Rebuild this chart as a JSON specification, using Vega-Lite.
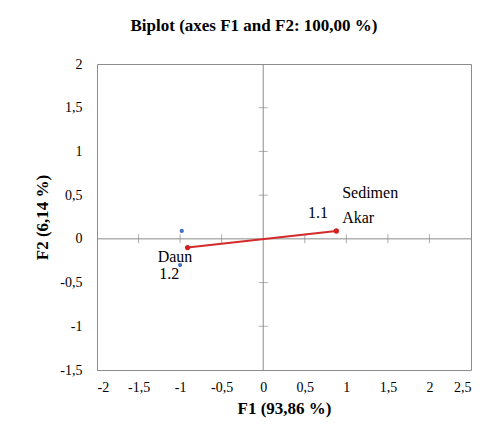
{
  "$schema": "https://vega.github.io/schema/vega-lite/v6.json",
  "width": 374,
  "height": 306,
  "autosize": {"type": "none"},
  "padding": {"left": 97, "top": 64, "right": 25, "bottom": 69},
  "background": "white",
  "title": {
    "text": "Biplot (axes F1 and F2: 100,00 %)",
    "font": "Liberation Serif",
    "fontSize": 17,
    "fontWeight": "bold",
    "color": "#000000",
    "anchor": "middle",
    "frame": "group",
    "dx": -30,
    "offset": 22
  },
  "config": {
    "view": {"stroke": "#8c8c8c", "strokeWidth": 1},
    "axis": {
      "grid": false,
      "ticks": false,
      "domain": false,
      "labelFont": "Liberation Serif",
      "labelFontSize": 14,
      "labelColor": "#000000",
      "titleFont": "Liberation Serif",
      "titleFontSize": 17,
      "titleFontWeight": "bold",
      "titleColor": "#000000"
    }
  },
  "datasets": {
    "vectors": [
      {"name": "Daun", "f1": -0.91, "f2": -0.10},
      {"name": "Sedimen", "f1": 0.88, "f2": 0.09}
    ],
    "obs": [
      {"name": "1.1", "f1": -0.98, "f2": 0.09},
      {"name": "1.2", "f1": -1.0, "f2": -0.30}
    ],
    "labels": [
      {"text": "Sedimen", "f1": 0.95, "f2": 0.53},
      {"text": "Akar", "f1": 0.95, "f2": 0.24},
      {"text": "1.1", "f1": 0.54, "f2": 0.30},
      {"text": "Daun", "f1": -1.27, "f2": -0.21},
      {"text": "1.2", "f1": -1.25, "f2": -0.40}
    ],
    "xticks": [
      {"v": -1.5}, {"v": -1}, {"v": -0.5}, {"v": 0.5}, {"v": 1}, {"v": 1.5}, {"v": 2}
    ],
    "yticks": [
      {"v": -1}, {"v": -0.5}, {"v": 0.5}, {"v": 1}, {"v": 1.5}
    ],
    "zero": [{"v": 0}]
  },
  "layer": [
    {
      "data": {"name": "zero"},
      "mark": {"type": "rule", "color": "#8c8c8c", "strokeWidth": 1},
      "encoding": {
        "x": {
          "field": "v", "type": "quantitative",
          "scale": {"domain": [-2, 2.5], "nice": false, "zero": false},
          "axis": {
            "values": [-2, -1.5, -1, -0.5, 0, 0.5, 1, 1.5, 2, 2.5],
            "labelExpr": "replace(toString(datum.value), '.', ',')",
            "labelPadding": 10,
            "title": "F1 (93,86 %)",
            "titlePadding": 6
          }
        }
      }
    },
    {
      "data": {"name": "zero"},
      "mark": {"type": "rule", "color": "#8c8c8c", "strokeWidth": 1},
      "encoding": {
        "y": {
          "field": "v", "type": "quantitative",
          "scale": {"domain": [-1.5, 2], "nice": false, "zero": false},
          "axis": {
            "values": [-1.5, -1, -0.5, 0, 0.5, 1, 1.5, 2],
            "labelExpr": "replace(toString(datum.value), '.', ',')",
            "labelPadding": 15,
            "title": "F2 (6,14 %)",
            "titlePadding": 8
          }
        }
      }
    },
    {
      "data": {"name": "xticks"},
      "mark": {"type": "tick", "orient": "vertical", "color": "#8c8c8c", "size": 9, "thickness": 1},
      "encoding": {
        "x": {"field": "v", "type": "quantitative"},
        "y": {"datum": 0, "type": "quantitative"}
      }
    },
    {
      "data": {"name": "yticks"},
      "mark": {"type": "tick", "orient": "horizontal", "color": "#8c8c8c", "size": 9, "thickness": 1},
      "encoding": {
        "y": {"field": "v", "type": "quantitative"},
        "x": {"datum": 0, "type": "quantitative"}
      }
    },
    {
      "data": {"name": "vectors"},
      "mark": {"type": "line", "color": "#d42a2a", "strokeWidth": 2},
      "encoding": {
        "x": {"field": "f1", "type": "quantitative"},
        "y": {"field": "f2", "type": "quantitative"},
        "order": {"field": "f1"}
      }
    },
    {
      "data": {"name": "vectors"},
      "mark": {"type": "point", "filled": true, "color": "#d42020", "size": 28, "opacity": 1},
      "encoding": {
        "x": {"field": "f1", "type": "quantitative"},
        "y": {"field": "f2", "type": "quantitative"}
      }
    },
    {
      "data": {"name": "obs"},
      "mark": {"type": "point", "filled": true, "color": "#4472c4", "size": 18, "opacity": 1},
      "encoding": {
        "x": {"field": "f1", "type": "quantitative"},
        "y": {"field": "f2", "type": "quantitative"}
      }
    },
    {
      "data": {"name": "labels"},
      "mark": {"type": "text", "font": "Liberation Serif", "fontSize": 16, "align": "left", "baseline": "middle", "color": "#000000"},
      "encoding": {
        "x": {"field": "f1", "type": "quantitative"},
        "y": {"field": "f2", "type": "quantitative"},
        "text": {"field": "text"}
      }
    }
  ]
}
